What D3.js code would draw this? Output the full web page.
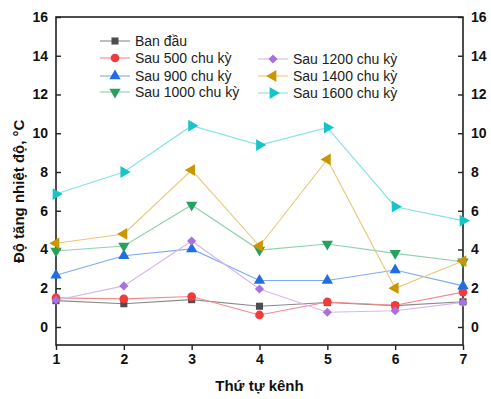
<!DOCTYPE html>
<html>
<head>
<meta charset="utf-8">
<script src="https://cdn.jsdelivr.net/npm/d3@7"></script>
<style>
  body { margin: 0; background: #fff; }
  svg { font-family: "Liberation Sans", Arial, sans-serif; }
</style>
</head>
<body>
<div id="chart"></div>
<script>
// channel numbers
var channels = [1, 2, 3, 4, 5, 6, 7];

// temperature rise per channel, one array per series
var banDau   = [1.36, 1.2, 1.41, 1.07, 1.26, 1.1, 1.3];
var sau500   = [1.5, 1.45, 1.57, 0.62, 1.29, 1.12, 1.8];
var sau900   = [2.67, 3.68, 4.03, 2.4, 2.4, 2.94, 2.12];
var sau1000  = [3.92, 4.18, 6.3, 3.97, 4.28, 3.8, 3.37];
var sau1200  = [1.38, 2.12, 4.44, 1.96, 0.76, 0.84, 1.27];
var sau1400  = [4.32, 4.8, 8.1, 4.18, 8.65, 2.0, 3.4];
var sau1600  = [6.86, 8.0, 10.39, 9.39, 10.29, 6.21, 5.49];

var yTicks = [0, 2, 4, 6, 8, 10, 12, 14, 16];

// diamond = square turned 45 degrees
var series = [
  {name: "Ban đầu",         values: banDau,  color: "#4d4d4d", line: "#8a8a8a", symbol: d3.symbolSquare, rot: 0,   size: 50},
  {name: "Sau 500 chu kỳ",  values: sau500,  color: "#f03c3c", line: "#f58a8a", symbol: d3.symbolCircle, rot: 0,   size: 60},
  {name: "Sau 900 chu kỳ",  values: sau900,  color: "#1f6fe0", line: "#7eaaf0", symbol: d3.symbolTriangle, rot: 0, size: 55},
  {name: "Sau 1000 chu kỳ", values: sau1000, color: "#28a060", line: "#90d0ae", symbol: d3.symbolTriangle, rot: 180, size: 55},
  {name: "Sau 1200 chu kỳ", values: sau1200, color: "#a970e0", line: "#d6b6f2", symbol: d3.symbolSquare, rot: 45, size: 42},
  {name: "Sau 1400 chu kỳ", values: sau1400, color: "#c99700", line: "#e6c979", symbol: d3.symbolTriangle, rot: -90, size: 60},
  {name: "Sau 1600 chu kỳ", values: sau1600, color: "#17c4c8", line: "#86e2e4", symbol: d3.symbolTriangle, rot: 90, size: 60}
];

var width = 491, height = 399;
var margin = {top: 17, right: 28, bottom: 54, left: 56};

var svg = d3.select("#chart").append("svg")
    .attr("width", width)
    .attr("height", height);

var x = d3.scaleLinear()
    .domain([1, 7])
    .range([margin.left, width - margin.right]);

var y = d3.scaleLinear()
    .domain([-0.93, 16])
    .range([height - margin.bottom, margin.top]);

// frame
svg.append("rect")
    .attr("x", x(1))
    .attr("y", y(16))
    .attr("width", x(7) - x(1))
    .attr("height", y(-0.93) - y(16))
    .attr("fill", "none")
    .attr("stroke", "#222")
    .attr("stroke-width", 1.6);

// left axis, ticks inside
var yLeft = svg.append("g")
    .attr("transform", "translate(" + x(1) + ",0)")
    .call(d3.axisLeft(y).tickValues(yTicks).tickSizeInner(-5).tickSizeOuter(0).tickPadding(8));

// right axis, ticks inside
var yRight = svg.append("g")
    .attr("transform", "translate(" + x(7) + ",0)")
    .call(d3.axisRight(y).tickValues(yTicks).tickSizeInner(-5).tickSizeOuter(0).tickPadding(8));

// bottom axis, ticks outside
var xAxis = svg.append("g")
    .attr("transform", "translate(0," + y(-0.93) + ")")
    .call(d3.axisBottom(x).tickValues(channels).tickFormat(d3.format("d")).tickSize(5).tickPadding(4));

[yLeft, yRight, xAxis].forEach(function(g) {
  g.select(".domain").remove();
  g.selectAll(".tick line").attr("stroke", "#222").attr("stroke-width", 1.4);
  g.selectAll(".tick text")
    .attr("fill", "#111")
    .style("font-size", "14px")
    .style("font-weight", "bold");
});

// lines and markers
var line = d3.line()
    .x(function(d, i) { return x(channels[i]); })
    .y(function(d) { return y(d); });

series.forEach(function(s) {
  svg.append("path")
    .datum(s.values)
    .attr("fill", "none")
    .attr("stroke", s.line)
    .attr("stroke-width", 1.1)
    .attr("d", line);
});

series.forEach(function(s) {
  var sym = d3.symbol().type(s.symbol).size(s.size);
  svg.selectAll(null)
    .data(s.values)
    .enter().append("path")
    .attr("d", sym)
    .attr("fill", s.color)
    .attr("transform", function(d, i) {
      return "translate(" + x(channels[i]) + "," + y(d) + ") rotate(" + s.rot + ")";
    });
});

// legend: two columns
var legendPos = [
  [100, 41], [100, 58], [100, 76], [100, 92],
  [258, 59], [258, 76], [258, 93]
];

series.forEach(function(s, i) {
  var g = svg.append("g")
    .attr("transform", "translate(" + legendPos[i][0] + "," + legendPos[i][1] + ")");
  g.append("line")
    .attr("x1", 0).attr("x2", 30)
    .attr("stroke", s.line)
    .attr("stroke-width", 1.1);
  g.append("path")
    .attr("d", d3.symbol().type(s.symbol).size(s.size))
    .attr("fill", s.color)
    .attr("transform", "translate(15,0) rotate(" + s.rot + ")");
  g.append("text")
    .attr("x", 35)
    .attr("dy", "0.35em")
    .attr("fill", "#222")
    .style("font-size", "14px")
    .text(s.name);
});

// axis titles
svg.append("text")
    .attr("x", (x(1) + x(7)) / 2)
    .attr("y", 391)
    .attr("text-anchor", "middle")
    .attr("fill", "#111")
    .style("font-size", "15px")
    .style("font-weight", "bold")
    .text("Thứ tự kênh");

svg.append("text")
    .attr("transform", "translate(19," + y(7.0) + ") rotate(-90)")
    .attr("text-anchor", "middle")
    .attr("dy", "0.35em")
    .attr("fill", "#111")
    .style("font-size", "15px")
    .style("font-weight", "bold")
    .text("Độ tăng nhiệt độ, °C");
</script>
</body>
</html>
